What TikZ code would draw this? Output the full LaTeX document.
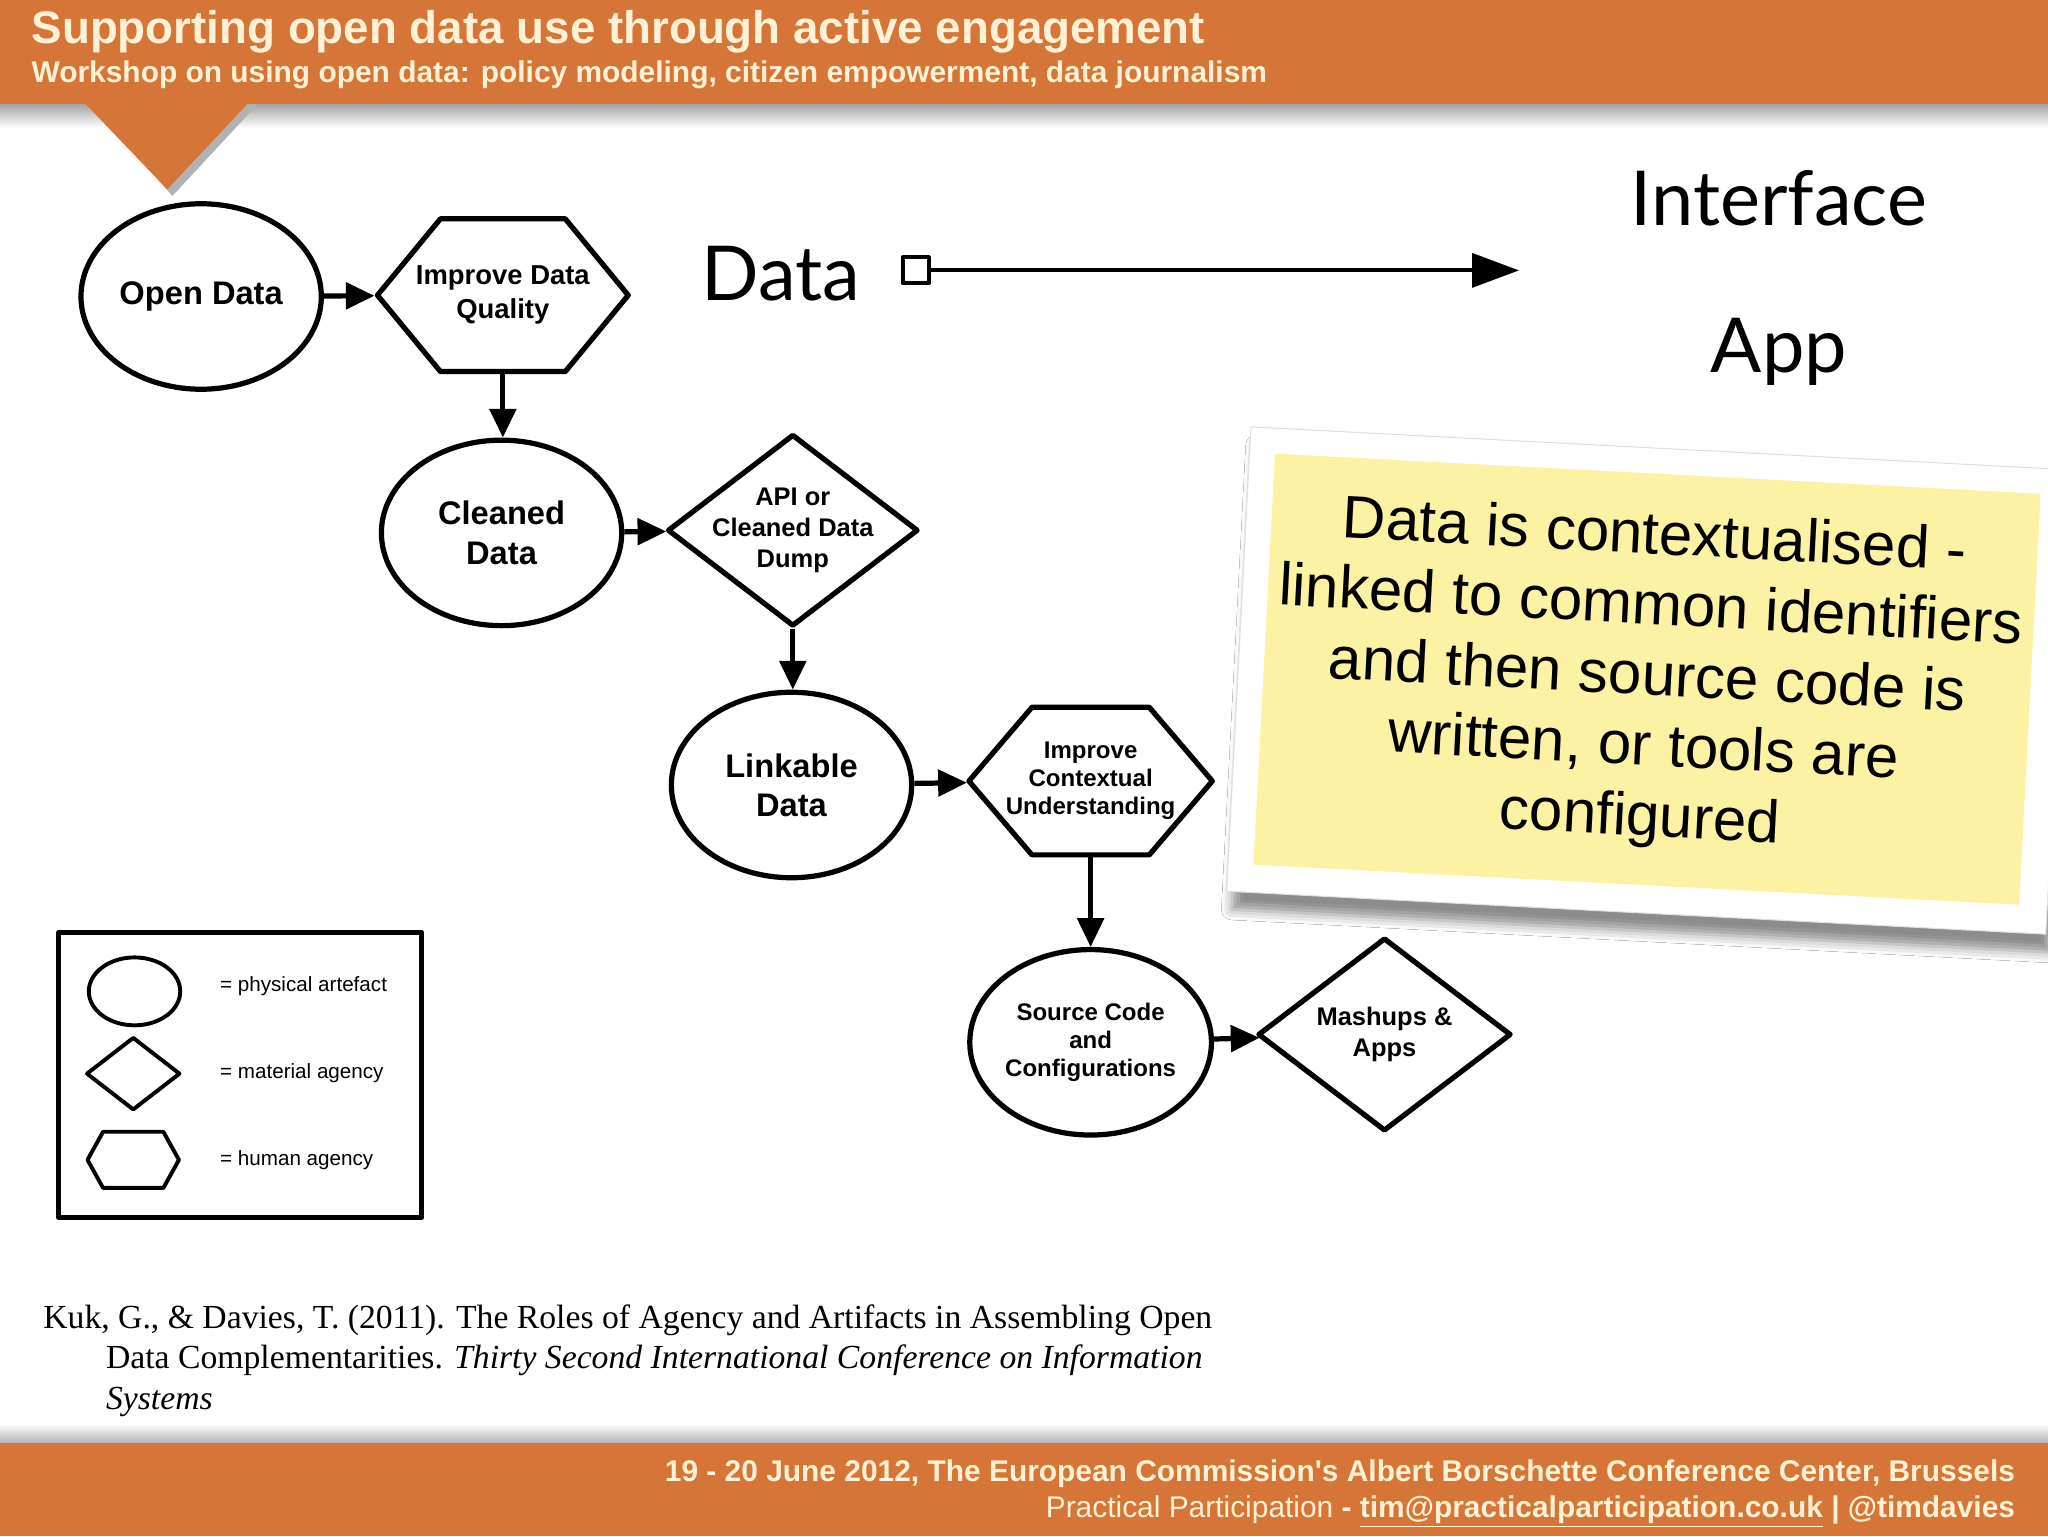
\documentclass[tikz,border=0pt]{standalone}
\usepackage{fontspec}
\setmainfont{Liberation Sans}
\newfontfamily\gillfont{Lato}
\newfontfamily\citefont{Liberation Serif}
\usetikzlibrary{shapes.geometric,shapes.symbols,arrows.meta,shadows.blur}
\definecolor{banner}{RGB}{213,118,56}
\definecolor{cream}{RGB}{255,242,212}
\definecolor{sticky}{RGB}{251,242,163}
\newcommand{\sz}[2]{\fontsize{#1}{#2}\selectfont}
\begin{document}
\begin{tikzpicture}[x=1pt, y=-1pt, line join=round, >=stealth,
  artefact/.style={ellipse, draw, line width=4pt, minimum width=184pt, minimum height=142pt, inner sep=0pt, align=center, font=\bfseries\sz{25}{30}},
  matagency/.style={diamond, draw, line width=4pt, minimum width=192pt, minimum height=147pt, inner sep=-30pt, align=center, font=\bfseries\sz{19.5}{24}},
  humagency/.style={signal, signal to=west and east, signal pointer angle=101, draw, line width=4pt, minimum width=192pt, minimum height=117pt, inner sep=-20pt, align=center, font=\bfseries\sz{21}{26}},
  flow/.style={line width=4pt, -{Triangle[length=22pt,width=20pt]}},
  keytext/.style={anchor=west, font=\sz{15.8}{18}},
  reftext/.style={anchor=base west, inner sep=0, font=\citefont\sz{25.8}{30}}]
\useasboundingbox (0,0) rectangle (1568,1176);
\fill[white] (0,0) rectangle (1568,1176);
% banners
\shade[top color=black!35, bottom color=white] (0,80) rectangle (1568,98);
\fill[black!30] (70,80) -- (197,80) -- (132,150) -- cycle;
\fill[banner] (65,79) -- (190,79) -- (128,145) -- cycle;
\fill[banner] (0,0) rectangle (1568,80);
\node[anchor=base west, text=cream, font=\bfseries\sz{35}{40}, inner sep=0] (title) at (24,33) {Supporting open data use through active engagement};
\node[anchor=base west, text=cream, font=\bfseries\sz{22.9}{26}, inner sep=0] (subtitle) at (24,63) {Workshop on using open data: policy modeling, citizen empowerment, data journalism};
\shade[top color=white, bottom color=black!30] (0,1090) rectangle (1568,1105);
\fill[banner] (0,1105) rectangle (1568,1176);
\node[anchor=base east, text=cream, font=\bfseries\sz{22.9}{26}, inner sep=0] (venue) at (1543,1134) {19 - 20 June 2012, The European Commission\textquotesingle s Albert Borschette Conference Center, Brussels};
\node[anchor=base east, text=cream, font=\sz{22.9}{26}, inner sep=0] (contact) at (1543,1162) {Practical Participation \textbf{- \underline{tim@practicalparticipation.co.uk} | @timdavies}};
% flow
\node[artefact] (odata) at (154,227) {Open Data};
\node[humagency] (idq) at (385,226) {Improve Data\\Quality};
\node[artefact] (cleaned) at (384,408) {Cleaned\\Data};
\node[matagency] (api) at (607,406) {API or\\Cleaned Data\\Dump};
\node[artefact] (linkable) at (606,601) {Linkable\\Data};
\node[humagency, minimum width=184pt, minimum height=113pt, signal pointer angle=99, font=\bfseries\sz{18.4}{21.5}] (icu) at (835,598) {Improve\\Contextual\\Understanding};
\node[artefact, font=\bfseries\sz{18.4}{21.5}] (srccode) at (835,798) {Source Code\\and\\Configurations};
\node[matagency, minimum width=194pt, minimum height=148pt] (mashups) at (1060,792) {Mashups \&\\Apps};
\draw[flow] (odata) -- (idq);
\draw[flow] (idq) -- (idq |- cleaned.north);
\draw[flow] (cleaned) -- (api);
\draw[flow] (api) -- (api |- linkable.north);
\draw[flow] (linkable) -- (icu);
\draw[flow] (icu) -- (srccode);
\draw[flow] (srccode) -- (mashups);
% data to interface
\node[font=\gillfont\sz{58}{60}, anchor=base west, inner sep=0] (datalbl) at (537,230) {Data};
\node[draw, line width=3pt, minimum size=20pt, inner sep=0] (sq) at (701,207) {};
\coordinate (iface) at (1163,207);
\draw[line width=3pt, -{Triangle[length=36pt,width=26pt]}] (sq) -- (iface);
\node[font=\gillfont\sz{58}{60}, anchor=base, inner sep=0] (ifacelbl) at (1362,173) {Interface};
\node[font=\gillfont\sz{58}{60}, anchor=base, inner sep=0] (applbl) at (1362,285) {App};
% sticky note
\node[rotate=-3, fill=white, draw=black!12, line width=0.8pt, minimum width=628pt, minimum height=356pt, blur shadow={shadow xshift=4pt, shadow yshift=-14pt, shadow blur radius=8pt, shadow opacity=45}] (frame) at (1262,521) {};
\node[rotate=-3, fill=sticky, minimum width=587pt, minimum height=315pt, inner sep=0, align=center, font=\sz{46}{54}] (note) at (1261,520) {Data is contextualised -\\linked to common identifiers\\and then source code is\\written, or tools are\\configured};
% key
\node[draw, line width=4pt, minimum width=278pt, minimum height=218pt] (key) at (184,823) {};
\node[artefact, line width=3pt, minimum width=70pt, minimum height=52pt] (kphys) at (103,759) {};
\node[matagency, line width=3pt, minimum width=72pt, minimum height=56pt] (kmat) at (102,822) {};
\node[humagency, line width=3pt, minimum width=70pt, minimum height=43pt, signal pointer angle=122] (khum) at (102,888) {};
\node[keytext] (kphystxt) at (165,755) {= physical artefact};
\node[keytext] (kmattxt) at (165,822) {= material agency};
\node[keytext] (khumtxt) at (165,888) {= human agency};
% reference
\node[reftext] (ref1) at (33,1017) {Kuk, G., \& Davies, T. (2011). The Roles of Agency and Artifacts in Assembling Open};
\node[reftext] (ref2) at (81,1048) {Data Complementarities. \textit{Thirty Second International Conference on Information}};
\node[reftext] (ref3) at (81,1079) {\textit{Systems}};
\end{tikzpicture}
\end{document}
